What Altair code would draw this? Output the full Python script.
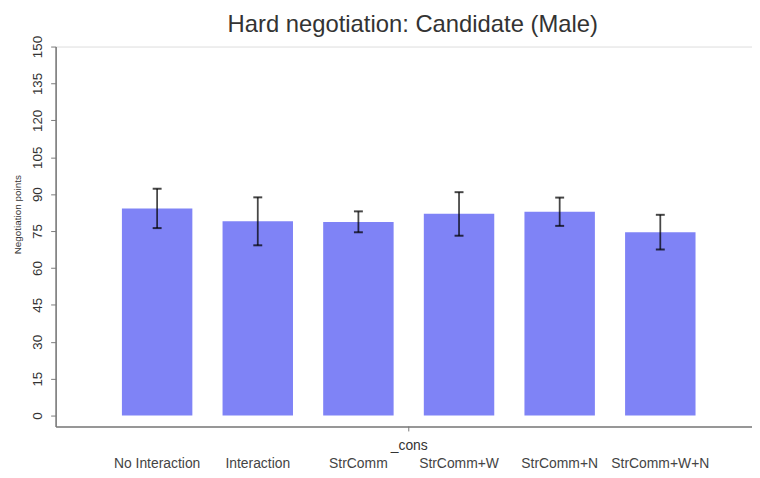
import altair as alt
import pandas as pd

categories = ["No Interaction", "Interaction", "StrComm", "StrComm+W", "StrComm+N", "StrComm+W+N"]
means = [84.2, 79.0, 78.7, 82.0, 82.8, 74.5]
ci_low = [76.2, 69.2, 74.5, 73.1, 77.1, 67.5]
ci_high = [92.2, 88.7, 83.0, 90.8, 88.6, 81.6]
y_ticks = [0, 15, 30, 45, 60, 75, 90, 105, 120, 135, 150]

df = pd.DataFrame({"cat": categories, "mean": means, "lo": ci_low, "hi": ci_high})

FONT = "Liberation Sans"
W, H = 702, 383

xscale = alt.Scale(domain=categories, paddingInner=0.3, paddingOuter=0.61, align=0.54)
yscale = alt.Scale(domain=[-4.45, 150], nice=False, zero=False)

xaxis = alt.Axis(
    title="_cons", titleFontSize=14, titleFont=FONT, titleFontWeight="normal", titleColor="#333333",
    titleX=356, titleY=19, titleAlign="center", titleBaseline="middle",
    labelAngle=0, labelFontSize=14, labelFont=FONT, labelColor="#444444",
    labelPadding=37, labelBaseline="middle", labelOverlap=False,
    ticks=False, tickSize=0, domainColor="#7a7a7a", domainWidth=1.6, grid=False,
)
yaxis = alt.Axis(
    title="Negotiation points", titleFontSize=10, titleFont=FONT, titleFontWeight="normal", titleColor="#333333",
    titleAngle=270, titleX=-38, titleY=169, titleAlign="center", titleBaseline="middle",
    values=y_ticks, tickCount=11, labelAngle=270, labelAlign="center", labelBaseline="bottom", labelOverlap=False,
    labelFontSize=13.5, labelFont=FONT, labelColor="#333333", labelPadding=6,
    tickSize=5, tickColor="#7a7a7a", tickWidth=1, domainColor="#7a7a7a", domainWidth=1.6, grid=False,
)

X = alt.X("cat:N", scale=xscale, axis=xaxis, sort=categories)

base = alt.Chart(df)

bars = base.mark_bar(color="#7f83f6").encode(
    x=X,
    y=alt.Y("mean:Q", scale=yscale, axis=yaxis),
    y2=alt.datum(0),
)

err = base.mark_rule(color="black", opacity=0.72, strokeWidth=1.8).encode(
    x=X,
    y=alt.Y("lo:Q", scale=yscale, axis=yaxis),
    y2="hi:Q",
)
cap_lo = base.mark_tick(color="black", opacity=0.72, size=9, thickness=2).encode(
    x=X, y=alt.Y("lo:Q", scale=yscale, axis=yaxis)
)
cap_hi = base.mark_tick(color="black", opacity=0.72, size=9, thickness=2).encode(
    x=X, y=alt.Y("hi:Q", scale=yscale, axis=yaxis)
)

center_tick = alt.Chart(pd.DataFrame({"k": [0]})).mark_rule(color="#7a7a7a", strokeWidth=1).encode(
    x=alt.value(356), y=alt.value(H), y2=alt.value(H + 5)
)

chart = alt.layer(bars, err, cap_lo, cap_hi, center_tick).properties(
    width=W, height=H,
    title=alt.TitleParams(
        "Hard negotiation: Candidate (Male)", fontSize=24, font=FONT, fontWeight="normal",
        color="#333333", anchor="middle", frame="group", dx=9, dy=2, offset=0,
    ),
    autosize=alt.AutoSizeParams(type="none"),
    padding={"left": 48, "top": 37, "right": 0, "bottom": 42},
).configure_view(stroke=None).configure(background="white")

chart.save("out.html", embed_options={"renderer": "svg", "actions": False})
